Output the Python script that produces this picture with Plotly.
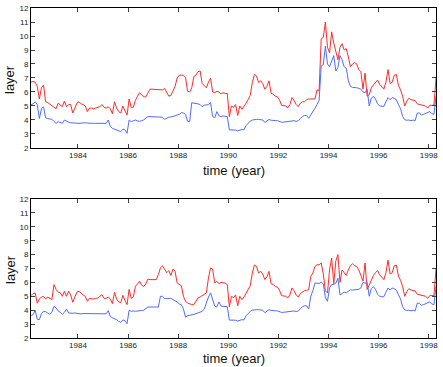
import plotly.graph_objects as go

# monthly samples, Feb 1982 .. Apr 1998 (decimal years, mid-month)
START_YEAR = 1982
START_MONTH = 2
N_MONTHS = 195
time = [START_YEAR + (START_MONTH - 1 + k + 0.5) / 12 for k in range(N_MONTHS)]

# ── upper panel ──────────────────────────────────────────────────────────────
top_red = [
    6.7, 6.75, 6.7, 6.4, 5.5, 6.3, 6.5, 5.3, 5.25, 5.15, 5.05,                 # 1982
    4.9, 4.8, 5.2, 5.1, 4.95, 5.35, 4.95, 5.1, 5.1, 4.5, 4.9, 5.2,             # 1983
    5.3, 5.15, 5.1, 5.0, 4.6, 4.85, 4.85, 4.8, 4.85, 4.88, 4.95, 5.1,          # 1984
    4.9, 4.85, 4.95, 4.8, 4.45, 5.3, 4.85, 4.6, 4.5, 5.0, 4.7, 4.35,           # 1985
    5.5, 4.9, 4.9, 5.4, 5.7, 5.95, 5.8, 5.65, 5.65, 5.9, 6.2, 6.2,             # 1986
    6.2, 6.15, 6.15, 6.15, 6.15, 6.25, 5.95, 5.7, 5.75, 6.15, 6.4, 7.0,        # 1987
    7.2, 7.2, 7.2, 7.05, 6.05, 6.0, 6.3, 7.1, 7.2, 7.45, 7.5, 6.6,             # 1988
    6.45, 6.3, 6.7, 7.0, 6.0, 5.95, 6.05, 6.0, 5.86, 5.95, 5.9, 5.9,           # 1989
    4.24, 5.0, 4.9, 5.1, 4.32, 5.0, 4.76, 4.95, 5.2, 5.45, 5.75, 6.67,         # 1990
    7.25, 7.15, 6.67, 6.8, 6.6, 6.2, 6.4, 6.8, 5.9, 5.85, 5.7, 5.66,           # 1991
    5.45, 5.05, 5.05, 5.0, 4.88, 5.1, 5.6, 5.4, 5.1, 4.95, 5.2, 5.3,           # 1992
    5.3, 5.45, 5.5, 5.5, 5.45, 5.5, 6.15, 6.1, 9.8, 9.9, 11.0, 9.2,            # 1993
    8.8, 10.3, 9.5, 8.9, 8.3, 9.2, 9.45, 9.0, 9.1, 8.5, 7.8, 8.0,              # 1994
    8.1, 8.0, 7.6, 7.45, 6.2, 7.35, 5.7, 5.8, 6.3, 6.5, 6.7, 6.85,             # 1995
    6.55, 6.4, 6.2, 6.7, 7.6, 6.6, 6.7, 7.2, 7.25, 6.45, 6.15, 5.7,            # 1996
    5.0, 5.35, 5.55, 5.45, 5.4, 5.38, 5.15, 5.1, 5.05, 5.0, 5.0, 4.85,         # 1997
    5.05, 5.05, 5.05, 7.0,                                                     # 1998
]
top_blue = [
    5.1, 5.15, 5.3, 5.1, 4.1, 4.8, 4.95, 4.15, 4.1, 4.1, 4.05,
    3.9, 3.76, 3.88, 3.8, 3.76, 4.0, 3.9, 3.85, 3.8, 3.78, 3.76, 3.76,
    3.76, 3.78, 3.8, 3.8, 3.78, 3.76, 3.76, 3.76, 3.76, 3.76, 3.76, 3.8,
    3.78, 3.76, 4.0, 3.55, 3.4, 3.35, 3.29, 3.2, 3.17, 3.35, 3.3, 3.05,
    4.0, 3.88, 3.95, 4.0, 3.93, 3.9, 3.95, 4.0, 4.15, 4.24, 4.24, 4.24,
    4.24, 4.24, 4.22, 4.2, 4.2, 4.05, 4.15, 4.2, 4.22, 4.24, 4.3, 4.36,
    4.4, 4.52, 4.5, 4.4, 3.9, 3.88, 5.24, 5.2, 5.19, 5.15, 5.1, 4.95,
    5.05, 5.07, 5.1, 5.24, 4.25, 4.15, 4.6, 4.3, 4.24, 4.29, 4.25, 4.24,
    3.29, 3.3, 3.3, 3.28, 3.22, 3.3, 3.32, 3.3, 3.6, 3.75, 3.92, 4.0,
    4.04, 4.04, 4.04, 4.03, 4.0, 3.82, 3.92, 4.04, 3.98, 3.95, 3.96, 3.95,
    3.9, 3.84, 3.85, 3.87, 3.88, 3.95, 3.96, 3.95, 3.9, 3.95, 4.1, 4.25,
    4.32, 4.32, 4.12, 4.36, 4.5, 4.83, 5.1, 5.4, 7.86, 7.95, 9.28, 8.0,
    7.8, 8.2, 8.6, 7.5, 7.75, 8.6, 8.3, 7.8, 7.7, 6.8, 6.4, 6.33,
    6.33, 6.3, 6.26, 6.2, 6.0, 5.95, 6.2, 5.0, 5.55, 5.7, 5.5, 5.15,
    5.0, 4.97, 4.97, 5.3, 5.6, 5.45, 5.6, 5.55, 5.45, 5.1, 4.8, 4.25,
    4.02, 3.98, 4.0, 3.95, 4.0, 3.95, 4.5, 4.5, 4.36, 4.4, 4.45, 4.55,
    4.6, 4.45, 4.4, 5.7,
]

# ── lower panel ──────────────────────────────────────────────────────────────
bottom_red = [
    5.05, 5.2, 5.24, 4.5, 4.8, 4.95, 5.0, 4.8, 4.95, 4.85, 4.76,
    5.84, 5.5, 5.3, 5.25, 5.0, 5.36, 5.0, 5.36, 5.1, 4.57, 4.95, 5.3,
    5.36, 5.2, 5.1, 5.0, 4.64, 4.85, 4.8, 4.8, 4.85, 4.88, 5.0, 5.12,
    4.85, 4.85, 4.95, 4.8, 4.47, 5.29, 4.8, 4.6, 4.55, 5.07, 4.7, 4.4,
    5.5, 4.85, 4.95, 5.72, 5.9, 6.08, 5.8, 5.7, 5.9, 6.24, 6.2, 6.2,
    6.2, 6.2, 6.56, 7.04, 7.2, 6.96, 6.7, 6.85, 6.5, 6.96, 6.8, 5.96,
    5.85, 5.76, 5.0, 4.64, 4.52, 4.45, 4.4, 4.4, 4.64, 4.88, 4.95, 5.05,
    5.15, 5.24, 6.32, 7.04, 6.96, 5.96, 6.08, 5.9, 6.0, 5.95, 5.95, 5.84,
    4.24, 5.0, 4.9, 5.1, 4.32, 5.0, 4.76, 4.95, 5.2, 5.45, 5.75, 6.67,
    7.25, 7.15, 6.67, 6.8, 6.6, 6.2, 6.4, 6.8, 5.9, 5.85, 5.7, 5.66,
    5.45, 5.05, 5.05, 5.0, 4.88, 5.1, 5.6, 5.4, 5.1, 4.95, 5.2, 5.3,
    5.4, 5.43, 5.47, 6.43, 6.67, 7.15, 7.27, 7.27, 7.4, 6.6, 5.4, 5.24,
    6.9, 7.75, 5.9, 7.55, 8.0, 6.0, 6.9, 6.7, 6.5, 6.9, 7.2, 7.35,
    7.2, 7.15, 6.9, 6.5, 6.1, 7.4, 5.5, 5.8, 6.2, 6.5, 6.7, 6.85,
    6.55, 6.4, 6.2, 6.7, 7.6, 6.6, 6.7, 7.2, 7.25, 6.45, 6.15, 5.7,
    5.0, 5.35, 5.55, 5.45, 5.4, 5.38, 5.15, 5.1, 5.05, 5.0, 5.0, 4.85,
    5.05, 5.05, 5.05, 7.0,
]
bottom_blue = [
    3.62, 3.68, 4.0, 3.35, 3.32, 3.75, 3.92, 3.9, 3.8, 3.7, 3.85,
    4.28, 4.16, 3.95, 3.85, 3.7, 3.85, 4.09, 3.8, 3.78, 3.78, 3.8, 3.76,
    3.75, 3.73, 3.76, 3.76, 3.78, 3.76, 3.76, 3.75, 3.76, 3.76, 3.76, 3.75,
    3.76, 3.74, 3.97, 3.55, 3.45, 3.4, 3.32, 3.2, 3.13, 3.3, 3.25, 3.03,
    4.0, 3.92, 3.95, 3.92, 3.95, 4.0, 3.98, 4.0, 4.15, 4.23, 4.23, 4.23,
    4.23, 4.23, 4.23, 5.0, 5.0, 4.85, 4.85, 4.8, 4.85, 4.76, 4.7, 4.6,
    4.45, 4.4, 4.1, 3.5, 3.6, 3.62, 3.65, 3.7, 3.75, 3.82, 3.85, 3.92,
    4.09, 4.6, 4.95, 5.25, 4.7, 4.3, 4.23, 4.6, 4.3, 4.28, 4.28, 4.25,
    3.29, 3.3, 3.3, 3.28, 3.22, 3.3, 3.32, 3.3, 3.6, 3.75, 3.92, 4.0,
    4.04, 4.04, 4.04, 4.03, 4.0, 3.82, 3.92, 4.04, 3.98, 3.95, 3.96, 3.95,
    3.9, 3.84, 3.85, 3.87, 3.88, 3.95, 3.96, 3.95, 3.9, 3.95, 4.1, 4.25,
    4.32, 4.32, 4.08, 5.0, 5.4, 5.95, 5.95, 5.92, 6.0, 5.9, 4.9, 4.64,
    5.6, 5.85, 5.85, 5.95, 6.3, 5.1, 5.2, 5.3, 5.25, 5.35, 5.47, 5.45,
    5.47, 5.47, 5.5, 5.6, 6.0, 5.95, 6.0, 5.0, 5.55, 5.7, 5.5, 5.15,
    5.0, 4.97, 4.97, 5.3, 5.6, 5.45, 5.6, 5.55, 5.45, 5.1, 4.8, 4.25,
    4.02, 3.98, 4.0, 3.95, 4.0, 3.95, 4.5, 4.5, 4.36, 4.4, 4.45, 4.55,
    4.6, 4.45, 4.4, 5.7,
]

x_ticks = [1984, 1986, 1988, 1990, 1992, 1994, 1996, 1998]
y_ticks = [2, 3, 4, 5, 6, 7, 8, 9, 10, 11, 12]

RED = "#ff2b2b"
BLUE = "#4f6dff"
FONT = "Arial, Liberation Sans, sans-serif"

fig = go.Figure()
for y, c, ax in [(top_red, RED, "1"), (top_blue, BLUE, "1"),
                 (bottom_red, RED, "2"), (bottom_blue, BLUE, "2")]:
    fig.add_trace(go.Scatter(
        x=time, y=y, mode="lines",
        line=dict(color=c, width=1),
        xaxis="x" + ("" if ax == "1" else ax),
        yaxis="y" + ("" if ax == "1" else ax),
        showlegend=False, hoverinfo="skip",
    ))

_x = dict(range=[1982.125, 1998.29], tickvals=x_ticks, ticks="inside", ticklen=4,
          tickcolor="#444", showline=True, linecolor="black", linewidth=1,
          mirror="ticks", showgrid=False, zeroline=False, automargin=False,
          ticklabelstandoff=-1,
          tickfont=dict(size=8, color="#222", family=FONT))
_y = dict(range=[2, 12], tickvals=y_ticks, ticks="inside", ticklen=4,
          tickcolor="#444", showline=True, linecolor="black", linewidth=1,
          mirror="ticks", showgrid=False, zeroline=False, automargin=False,
          tickfont=dict(size=8, color="#222", family=FONT))

fig.update_layout(
    width=443, height=367,
    margin=dict(l=31, r=7, t=8, b=29),
    plot_bgcolor="white", paper_bgcolor="white",
    font=dict(family=FONT),
    xaxis=dict(**_x, domain=[0, 1], anchor="y"),
    yaxis=dict(**_y, domain=[0.5758, 1.0], anchor="x"),
    xaxis2=dict(**_x, domain=[0, 1], anchor="y2"),
    yaxis2=dict(**_y, domain=[0.0, 0.4212], anchor="x2"),
)

for ypix in (170, 358):
    fig.add_annotation(text="time (year)", xref="paper", yref="paper",
                       x=0.5, y=(338 - ypix) / 330, xanchor="center", yanchor="middle",
                       showarrow=False, font=dict(size=13, color="#111", family=FONT))
for ypix in (80, 270):
    fig.add_annotation(text="layer", textangle=-90, xref="paper", yref="paper",
                       x=(10 - 31) / 405, y=(338 - ypix) / 330, xanchor="center",
                       yanchor="middle", showarrow=False,
                       font=dict(size=13, color="#111", family=FONT))

fig.write_html("out.html", config={"displayModeBar": False},
               post_script="document.body.style.margin='0';")
